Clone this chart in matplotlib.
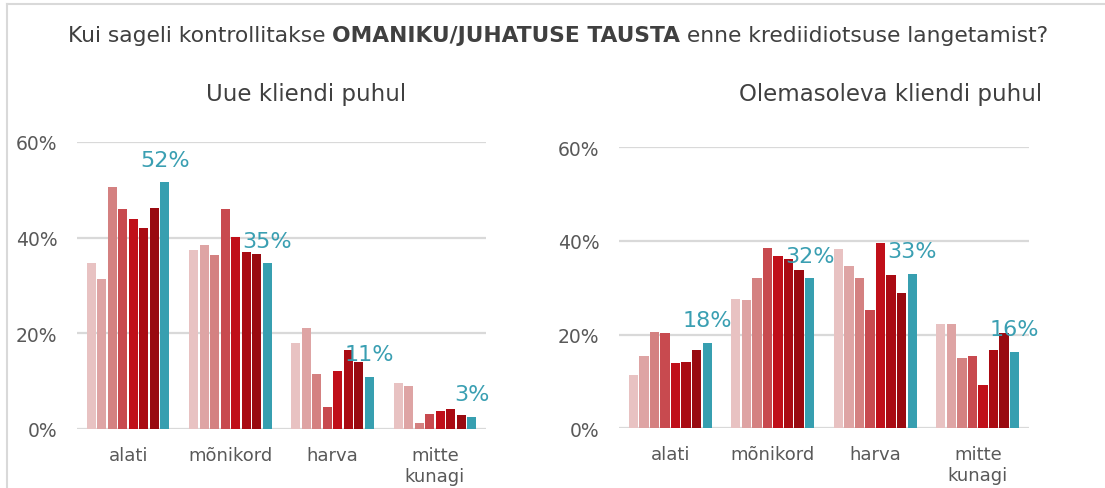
import matplotlib
matplotlib.use("Agg")
import matplotlib.pyplot as plt
import numpy as np
from matplotlib.lines import Line2D

# Data (%)
categories = ["alati", "mõnikord", "harva", "mitte\nkunagi"]

uus = [  # Uue kliendi puhul: 8 series per category
    [34.6, 31.4, 50.6, 46.0, 43.9, 42.1, 46.2, 51.6],
    [37.4, 38.4, 36.4, 46.0, 40.1, 36.9, 36.6, 34.6],
    [17.9, 21.1, 11.6, 4.7, 12.1, 16.6, 14.0, 10.9],
    [9.7, 9.0, 1.3, 3.1, 3.7, 4.1, 3.0, 2.6],
]
olemas = [  # Olemasoleva kliendi puhul
    [11.4, 15.4, 20.6, 20.4, 14.0, 14.2, 16.8, 18.3],
    [27.6, 27.4, 32.1, 38.5, 36.7, 36.1, 33.7, 32.0],
    [38.2, 34.7, 32.1, 25.3, 39.5, 32.7, 28.8, 33.0],
    [22.2, 22.2, 14.9, 15.5, 9.3, 16.6, 20.3, 16.3],
]

colors = ["#e8c2c2", "#dea4a4", "#d48181", "#c84a4f", "#c00f19",
          "#aa0b13", "#990a10", "#379fb0"]

title_parts = [("Kui sageli kontrollitakse ", "normal"),
               ("OMANIKU/JUHATUSE TAUSTA", "bold"),
               (" enne krediidiotsuse langetamist?", "normal")]
subtitles = ["Uue kliendi puhul", "Olemasoleva kliendi puhul"]

plt.rcParams['font.family'] = ['DejaVu Sans']
fig = plt.figure(figsize=(11.05, 4.89), dpi=100)

W, H = 1105, 489
ax_specs = [
    (uus, [77 / W, (H - 430) / H, 409 / W, 287 / H], subtitles[0], 306),
    (olemas, [619 / W, (H - 429.3) / H, 410 / W, 281.3 / H], subtitles[1], 891),
]

grey_txt = "#595959"
grid_c = "#d9d9d9"
n = 8
slot = 0.82 / n

for data, pos, sub, sub_x in ax_specs:
    ax = fig.add_axes(pos)
    arr = np.array(data)
    x = np.arange(len(categories))
    for i in range(n):
        xs = x - 0.41 + slot * (i + 0.5)
        ax.bar(xs, arr[:, i], width=slot * 0.86, color=colors[i], zorder=3)
    # labels on teal series
    for j in range(len(categories)):
        xs = x[j] - 0.41 + slot * (n - 0.5)
        ax.annotate(f"{round(arr[j, -1]):.0f}%", (xs, arr[j, -1]),
                    xytext=(0, 12), textcoords="offset points",
                    ha="center", va="baseline", fontsize=16,
                    color="#3a9fb2", zorder=5, annotation_clip=False)
    ax.set_xlim(-0.5, len(categories) - 0.5)
    ax.set_ylim(0, 60)
    ax.set_yticks([0, 20, 40, 60])
    ax.set_yticklabels(["0%", "20%", "40%", "60%"])
    ax.set_xticks(x)
    ax.set_xticklabels(categories, linespacing=1.25)
    ax.tick_params(axis="y", length=0, pad=14, labelsize=13.5, labelcolor=grey_txt)
    ax.tick_params(axis="x", length=0, pad=12, labelsize=13, labelcolor=grey_txt)
    ax.grid(axis="y", color=grid_c, linewidth=1.6, zorder=0)
    for s in ax.spines.values():
        s.set_visible(False)
    ax.set_facecolor("none")
    fig.text(sub_x / W, 1 - 95 / H, sub, ha="center", va="center",
             fontsize=16.5, color="#404040")

# title with bold middle part
fig.canvas.draw()
r = fig.canvas.get_renderer()
texts = []
for s, wgt in title_parts:
    t = fig.text(0, 1 - 36 / H, s, ha="left", va="center", fontsize=15.7,
                 fontweight=wgt, color="#404040")
    texts.append(t)
widths = [t.get_window_extent(r).width for t in texts]
total = sum(widths)
x0 = (558 - total / 2)
for t, w in zip(texts, widths):
    t.set_x(x0 / W)
    x0 += w

# thin frame (top and left)
fig.add_artist(Line2D([7 / W, 1], [1 - 5 / H, 1 - 5 / H], color="#d9d9d9", lw=1.5))
fig.add_artist(Line2D([7 / W, 7 / W], [0, 1 - 5 / H], color="#d9d9d9", lw=1.5))

fig.savefig("out.png", dpi=100)
